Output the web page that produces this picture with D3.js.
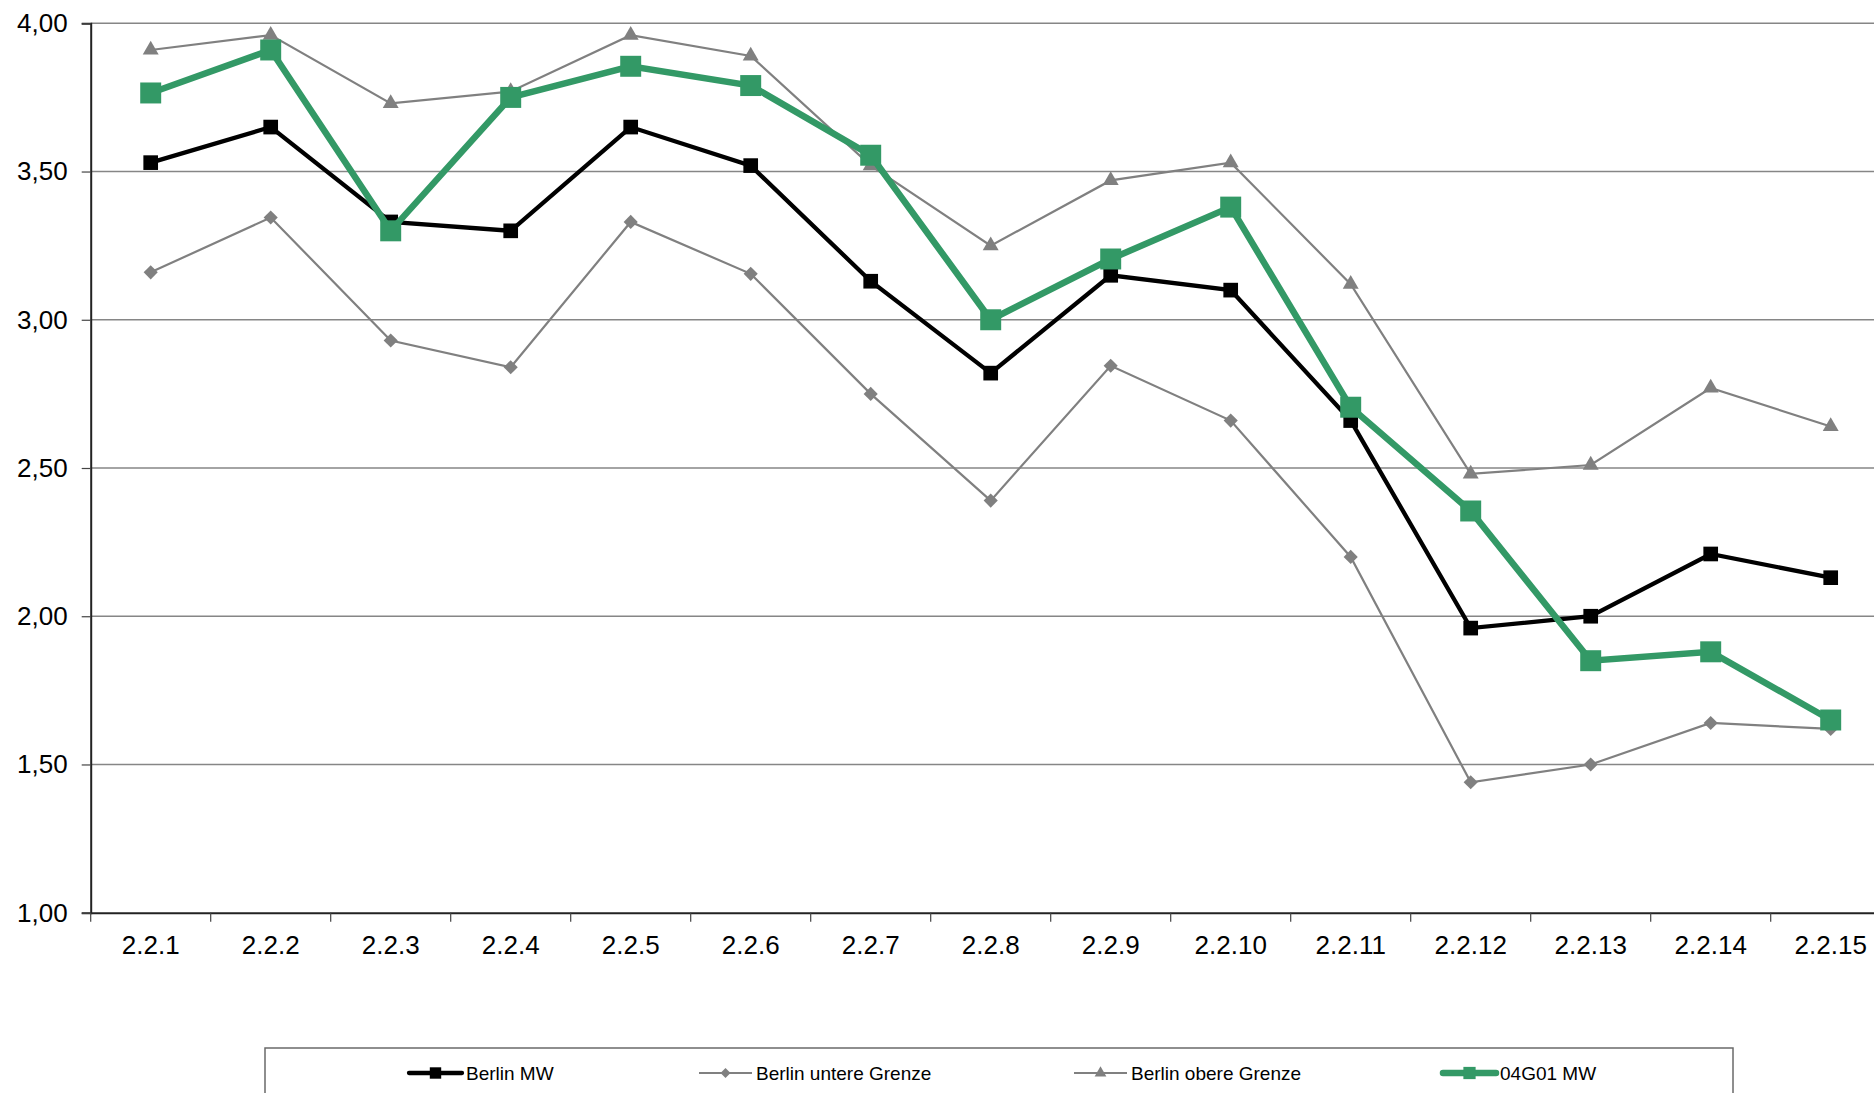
<!DOCTYPE html>
<html>
<head>
<meta charset="utf-8">
<script src="https://cdn.jsdelivr.net/npm/d3@7"></script>
<style>
  html, body { margin: 0; padding: 0; background: #fff; overflow: hidden; }
  svg { display: block; font-family: "Liberation Sans", Arial, sans-serif; }
</style>
</head>
<body>
<div id="chart"></div>
<script>
// Kategoriat ja sarjat (luettu kuvasta)
const categories = ["2.2.1","2.2.2","2.2.3","2.2.4","2.2.5","2.2.6","2.2.7","2.2.8","2.2.9","2.2.10","2.2.11","2.2.12","2.2.13","2.2.14","2.2.15"];
const berlinMW     = [3.53,3.65,3.33,3.30,3.65,3.52,3.13,2.82,3.15,3.10,2.66,1.96,2.00,2.21,2.13];
const berlinUntere = [3.16,3.345,2.93,2.84,3.33,3.155,2.75,2.39,2.845,2.66,2.20,1.44,1.50,1.64,1.62];
const berlinObere  = [3.91,3.96,3.73,3.77,3.96,3.89,3.52,3.25,3.47,3.53,3.12,2.48,2.51,2.77,2.64];
const g04G01MW     = [3.765,3.91,3.30,3.75,3.855,3.79,3.555,3.00,3.205,3.38,2.705,2.355,1.85,1.88,1.65];
const yTicks = [1.0,1.5,2.0,2.5,3.0,3.5,4.0];
const legendNames = ["Berlin MW","Berlin untere Grenze","Berlin obere Grenze","04G01 MW"];

const width = 1874, height = 1093;
const plotLeft = 90.7, plotTop = 23.3, plotBottom = 912.7;
const bandW = 120;

const svg = d3.select("#chart").append("svg")
  .attr("width", width)
  .attr("height", height);

// Skaalat
const x = d3.scaleBand().domain(categories).range([plotLeft, plotLeft + bandW * categories.length]).padding(0);
const y = d3.scaleLinear().domain([1, 4]).range([plotBottom, plotTop]);
const fmt = d => d.toFixed(2).replace(".", ",");

// Ruudukko
svg.append("g")
  .selectAll("line")
  .data(yTicks.filter(d => d > 1))
  .join("line")
  .attr("x1", plotLeft).attr("x2", plotLeft + bandW * categories.length)
  .attr("y1", d => y(d)).attr("y2", d => y(d))
  .attr("stroke", "#868686").attr("stroke-width", 1.4);

// y-akseli
const yAxis = svg.append("g")
  .attr("transform", `translate(${plotLeft},0)`)
  .call(d3.axisLeft(y).tickValues(yTicks).tickFormat(fmt).tickSize(9).tickPadding(14));
yAxis.select(".domain").attr("stroke", "#222").attr("stroke-width", 2);
yAxis.selectAll(".tick line").attr("stroke", "#444").attr("stroke-width", 1.2);
yAxis.selectAll("text").attr("font-size", 26).attr("fill", "#000")
  .attr("font-family", "'Liberation Sans', Arial, sans-serif");

// x-akseli
const xAxis = svg.append("g")
  .attr("transform", `translate(0,${plotBottom})`)
  .call(d3.axisBottom(x).tickSize(0).tickPadding(23));
xAxis.select(".domain").attr("stroke", "#222").attr("stroke-width", 2);
xAxis.selectAll("text").attr("font-size", 26).attr("fill", "#000")
  .attr("font-family", "'Liberation Sans', Arial, sans-serif");
// väliviivat kategorioiden välissä
svg.append("g")
  .selectAll("line")
  .data(d3.range(categories.length + 1))
  .join("line")
  .attr("x1", i => plotLeft + i * bandW).attr("x2", i => plotLeft + i * bandW)
  .attr("y1", plotBottom).attr("y2", plotBottom + 9)
  .attr("stroke", "#444").attr("stroke-width", 1.2);

// Sarjojen tyylit
const series = [
  { name: legendNames[0], values: berlinMW,     color: "#000000", lw: 4.3, sym: d3.symbolSquare,   size: 215, rot: 0,  legSize: 130 },
  { name: legendNames[1], values: berlinUntere, color: "#808080", lw: 2.2, sym: d3.symbolSquare,   size: 100, rot: 45, legSize: 50 },
  { name: legendNames[2], values: berlinObere,  color: "#808080", lw: 2.2, sym: d3.symbolTriangle, size: 110, rot: 0,  legSize: 60 },
  { name: legendNames[3], values: g04G01MW,     color: "#339966", lw: 6.5, sym: d3.symbolSquare,   size: 440, rot: 0,  legSize: 150 }
];

const line = d3.line()
  .x((d, i) => x(categories[i]) + bandW / 2)
  .y(d => y(d));

const plot = svg.append("g");
series.forEach(s => {
  const g = plot.append("g");
  g.append("path")
    .attr("d", line(s.values))
    .attr("fill", "none")
    .attr("stroke", s.color)
    .attr("stroke-width", s.lw)
    .attr("stroke-linejoin", "miter");
  g.selectAll("path.m")
    .data(s.values)
    .join("path")
    .attr("class", "m")
    .attr("d", d3.symbol(s.sym, s.size))
    .attr("transform", (d, i) => `translate(${x(categories[i]) + bandW / 2},${y(d)}) rotate(${s.rot})`)
    .attr("fill", s.color);
});

// Selite
const legend = svg.append("g");
legend.append("rect")
  .attr("x", 265).attr("y", 1048)
  .attr("width", 1733 - 265).attr("height", 80)
  .attr("fill", "none").attr("stroke", "#6a6a6a").attr("stroke-width", 1.5);
const legX = [409, 699, 1074, 1443];
const legY = 1073;
series.forEach((s, i) => {
  const g = legend.append("g").attr("transform", `translate(${legX[i]},${legY})`);
  g.append("line")
    .attr("x1", 0).attr("x2", 53).attr("y1", 0).attr("y2", 0)
    .attr("stroke", s.color).attr("stroke-width", s.lw)
    .attr("stroke-linecap", s.lw > 4 ? "round" : "butt");
  g.append("path")
    .attr("d", d3.symbol(s.sym, s.legSize))
    .attr("transform", `translate(26.5,0) rotate(${s.rot})`)
    .attr("fill", s.color);
  g.append("text")
    .attr("x", 57).attr("y", 0).attr("dy", "0.35em")
    .attr("font-size", 19).attr("fill", "#000")
    .text(s.name);
});
</script>
</body>
</html>
